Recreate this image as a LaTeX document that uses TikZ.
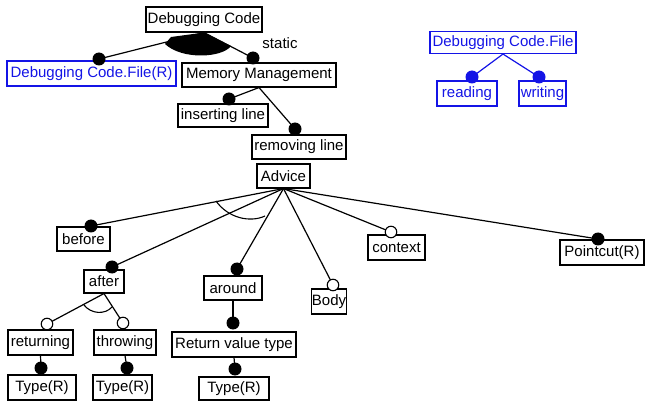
\documentclass[tikz,border=0pt]{standalone}
\usepackage{fontspec}
\setmainfont{Liberation Sans}
\definecolor{fileblue}{RGB}{20,20,230}
\begin{document}
\begin{tikzpicture}[x=1pt,y=-1pt,
  box/.style={draw, line width=1.1pt, inner sep=0pt, font=\fontsize{15}{17}\selectfont},
  link/.style={line width=1.2pt},
  fdot/.style={circle, fill=black, inner sep=0pt, minimum size=13pt},
  odot/.style={circle, draw, fill=white, line width=1.1pt, inner sep=0pt, minimum size=11.5pt},
  grouparc/.style={line width=1.1pt},
]
\useasboundingbox (0,0) rectangle (646,401);

% ---- feature boxes ----
\node[box, minimum width=116pt, minimum height=25pt] (dc) at (204,19.5) {Debugging Code};
\node[box, draw=fileblue, text=fileblue, minimum width=169pt, minimum height=25pt] (dcf) at (91.5,73.5) {Debugging Code.File(R)};
\node[box, minimum width=154pt, minimum height=24pt] (mm) at (259,75) {Memory Management};
\node[box, minimum width=90pt, minimum height=23pt] (ins) at (223,115.5) {inserting line};
\node[box, minimum width=94pt, minimum height=24pt] (rem) at (299,147) {removing line};
\node[box, minimum width=53pt, minimum height=24pt] (adv) at (283.5,176) {Advice};
\node[box, minimum width=53pt, minimum height=24pt] (bef) at (83.5,239) {before};
\node[box, minimum width=40pt, minimum height=23pt] (aft) at (104,281.5) {after};
\node[box, minimum width=58pt, minimum height=24pt] (aro) at (233,288) {around};
\node[box, minimum width=32pt, minimum height=25pt] (body) at (329,301.5) {Body};
\node[box, minimum width=57pt, minimum height=25pt] (ctx) at (396.5,247.5) {context};
\node[box, minimum width=84pt, minimum height=25pt] (pc) at (602,252.5) {Pointcut(R)};
\node[box, minimum width=65pt, minimum height=25pt] (ret) at (40.5,342.5) {returning};
\node[box, minimum width=62pt, minimum height=25pt] (thr) at (125,342.5) {throwing};
\node[box, minimum width=124pt, minimum height=25pt] (rvt) at (234,344.5) {Return value type};
\node[box, minimum width=68pt, minimum height=25pt] (tya) at (42,387.5) {Type(R)};
\node[box, minimum width=59pt, minimum height=25pt] (tyb) at (122.5,387.5) {Type(R)};
\node[box, minimum width=70pt, minimum height=23pt] (tyc) at (234,388.5) {Type(R)};

\node[box, draw=fileblue, text=fileblue, minimum width=146pt, minimum height=22pt] (file) at (503,42.5) {Debugging Code.File};
\node[box, draw=fileblue, text=fileblue, minimum width=60pt, minimum height=25pt] (rd) at (467,93.5) {reading};
\node[box, draw=fileblue, text=fileblue, minimum width=47pt, minimum height=25pt] (wr) at (542.5,93.5) {writing};

\node[font=\fontsize{15}{17}\selectfont, inner sep=0pt] (static) at (280,43) {static};

% ---- attachment points of the child markers ----
\coordinate (pdcf) at (99,59);
\coordinate (pmm) at (253,58);
\coordinate (pins) at (229,99);
\coordinate (prem) at (295,129);
\coordinate (pbef) at (91,226);
\coordinate (paft) at (112,267);
\coordinate (paro) at (237,269);
\coordinate (pbody) at (333,285);
\coordinate (pctx) at (391,232);
\coordinate (ppc) at (598,239);
\coordinate (pret) at (47,324);
\coordinate (pthr) at (123,323);
\coordinate (prvt) at (233,323);
\coordinate (ptya) at (41,368);
\coordinate (ptyb) at (127,368);
\coordinate (ptyc) at (235,369);
\coordinate (prd) at (472,77);
\coordinate (pwr) at (539,77);

% ---- or-group wedge under the root ----
\fill (165,44) -- (171,37) -- (dc.south) -- (231,46)
  .. controls (222,58) and (182,60) .. (165,44) -- cycle;

% ---- connectors ----
\draw[link] (dc.south) -- (pdcf);
\draw[link] (dc.south) -- (pmm);
\draw[link] (mm.south) -- (pins);
\draw[link] (mm.south) -- (prem);
\draw[link] (adv.south) -- (pbef);
\draw[link] (adv.south) -- (paft);
\draw[link] (adv.south) -- (paro);
\draw[link] (adv.south) -- (pbody);
\draw[link] (adv.south) -- (pctx);
\draw[link] (adv.south) -- (ppc);
\draw[link] (aft.south) -- (pret);
\draw[link] (aft.south) -- (pthr);
\draw[link] (aro.south) -- (prvt);
\draw[link] (ret.south) -- (ptya);
\draw[link] (thr.south) -- (ptyb);
\draw[link] (rvt.south) -- (ptyc);
\draw[link, fileblue] (file.south) -- (prd);
\draw[link, fileblue] (file.south) -- (pwr);

% ---- alternative-group arcs ----
\draw[grouparc] (216,201) .. controls (228,218) and (250,223) .. (265,216);
\draw[grouparc] (84,305) .. controls (91,314) and (105,315) .. (112,307);

% ---- markers ----
\node[fdot] (mdcf) at (pdcf) {};
\node[fdot] (mmm) at (pmm) {};
\node[fdot] (mins) at (pins) {};
\node[fdot] (mrem) at (prem) {};
\node[fdot] (mbef) at (pbef) {};
\node[fdot] (maft) at (paft) {};
\node[fdot] (maro) at (paro) {};
\node[odot] (mbody) at (pbody) {};
\node[odot] (mctx) at (pctx) {};
\node[fdot] (mpc) at (ppc) {};
\node[odot] (mret) at (pret) {};
\node[odot] (mthr) at (pthr) {};
\node[fdot] (mrvt) at (prvt) {};
\node[fdot] (mtya) at (ptya) {};
\node[fdot] (mtyb) at (ptyb) {};
\node[fdot] (mtyc) at (ptyc) {};
\node[fdot, fill=fileblue] (mrd) at (prd) {};
\node[fdot, fill=fileblue] (mwr) at (pwr) {};
\end{tikzpicture}
\end{document}
